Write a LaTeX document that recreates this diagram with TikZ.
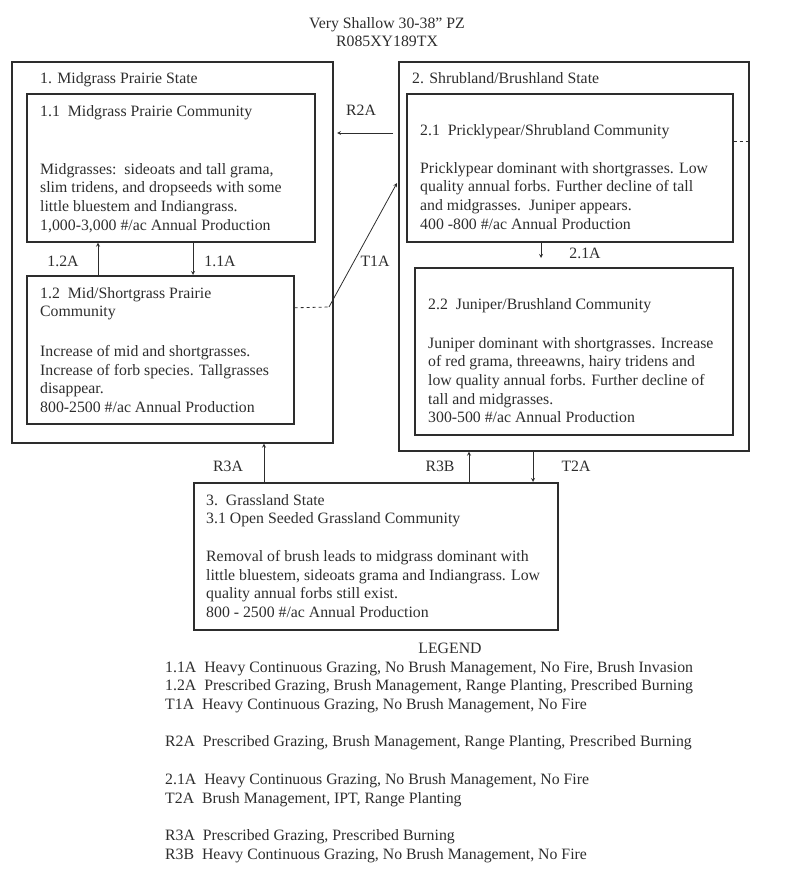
\documentclass[tikz,border=0pt]{standalone}
\usepackage{fontspec}
\setmainfont{Liberation Serif}
\usetikzlibrary{shapes,arrows,positioning}
\definecolor{linegray}{RGB}{45,45,45}
\definecolor{textgray}{RGB}{45,45,45}
\newcommand{\stmfont}{\fontsize{15.8}{18.7}\selectfont}

\begin{document}
\begin{tikzpicture}[
    x=1pt, y=-1pt,
    box/.style={rectangle, draw=linegray, line width=1.6pt, inner sep=0pt, anchor=north west},
    txt/.style={inner sep=0pt, anchor=north west, align=left, font=\stmfont, text=textgray},
    lbl/.style={inner sep=0pt, font=\stmfont, text=textgray},
    arrow/.style={->, >=stealth, linegray, line width=0.8pt},
    darrow/.style={linegray, line width=0.8pt, dashed}
]
\useasboundingbox (0,0) rectangle (800,891);

% Title
\node[lbl, align=center] (title) at (387,32) {Very Shallow 30-38” PZ\\R085XY189TX};

% Left: Midgrass Prairie State
\node[box, minimum width=321pt, minimum height=381pt] (s1) at (11,61) {};
\node[txt] (s1lbl) at (40,72) {1. Midgrass Prairie State};
\node[box, minimum width=288pt, minimum height=148pt] (c11) at (26,93) {};
\node[txt] (c11t) at (40,105) {1.1\ \ Midgrass Prairie Community};
\node[txt] (c11b) at (40,163) {Midgrasses:\ \ sideoats and tall grama,\\
slim tridens, and dropseeds with some\\
little bluestem and Indiangrass.\\
1,000-3,000 \#/ac Annual Production};
\node[box, minimum width=267pt, minimum height=148pt] (c12) at (26,275) {};
\node[txt] (c12t) at (40,287) {1.2\ \ Mid/Shortgrass Prairie\\Community};
\node[txt] (c12b) at (40,345) {Increase of mid and shortgrasses.\\
Increase of forb species. Tallgrasses\\
disappear.\\
800-2500 \#/ac Annual Production};

% Right: Shrubland/Brushland State
\node[box, minimum width=350pt, minimum height=389pt] (s2) at (398,61) {};
\node[txt] (s2lbl) at (412,72) {2. Shrubland/Brushland State};
\node[box, minimum width=326pt, minimum height=148pt] (c21) at (406,93) {};
\node[txt] (c21t) at (420,124) {2.1\ \ Pricklypear/Shrubland Community};
\node[txt] (c21b) at (420,162) {Pricklypear dominant with shortgrasses. Low\\
quality annual forbs. Further decline of tall\\
and midgrasses.\ \ Juniper appears.\\
400 -800 \#/ac Annual Production};
\node[box, minimum width=318pt, minimum height=167pt] (c22) at (414,267) {};
\node[txt] (c22t) at (428,298) {2.2\ \ Juniper/Brushland Community};
\node[txt] (c22b) at (428,337) {Juniper dominant with shortgrasses. Increase\\
of red grama, threeawns, hairy tridens and\\
low quality annual forbs. Further decline of\\
tall and midgrasses.\\
300-500 \#/ac Annual Production};

% Bottom: Grassland State
\node[box, minimum width=364pt, minimum height=147pt] (g3) at (193,482) {};
\node[txt] (g3t) at (206,494) {3.\ \ Grassland State\\3.1 Open Seeded Grassland Community};
\node[txt] (g3b) at (206,550) {Removal of brush leads to midgrass dominant with\\
little bluestem, sideoats grama and Indiangrass. Low\\
quality annual forbs still exist.\\
800 - 2500 \#/ac Annual Production};

% Transition labels
\node[lbl] (r2al) at (361,110) {R2A};
\node[lbl] (a12l) at (63,261) {1.2A};
\node[lbl] (a11l) at (220,261) {1.1A};
\node[lbl] (t1al) at (375,261) {T1A};
\node[lbl] (a21l) at (585,253) {2.1A};
\node[lbl] (r3al) at (228,466) {R3A};
\node[lbl] (r3bl) at (440,466) {R3B};
\node[lbl] (t2al) at (576,466) {T2A};

% Free ends
\coordinate (r2as) at (393,133);
\coordinate (r2ae) at (337,133);
\coordinate (t1ak) at (329,307);
\coordinate (t1ae) at (397,183);
\coordinate (a21e) at (541,258);

% Arrows - within states
\draw[arrow] ([xshift=72pt]c12.north west) -- ([xshift=72pt]c11.south west);
\draw[arrow] ([xshift=167pt]c11.south west) -- ([xshift=167pt]c12.north west);
\draw[arrow] ([xshift=135pt]c21.south west) -- (a21e);

% Arrows - between states
\draw[arrow] (r2as) -- (r2ae);
\draw[darrow] ([yshift=42pt]c12.east) -- (t1ak);
\draw[arrow] (t1ak) -- (t1ae);
\draw[darrow] ([yshift=26pt]c21.east) -- ([yshift=26pt]c21.east -| s2.east);
\draw[arrow] ([xshift=71pt]g3.north west) -- ([xshift=253pt]s1.south west);
\draw[arrow] ([xshift=276pt]g3.north west) -- ([xshift=71pt]s2.south west);
\draw[arrow] ([xshift=135pt]s2.south west) -- ([xshift=340pt]g3.north west);

% Legend
\node[lbl] (leghead) at (450,648) {LEGEND};
\node[txt] (legend) at (165,661) {1.1A\ \ Heavy Continuous Grazing, No Brush Management, No Fire, Brush Invasion\\
1.2A\ \ Prescribed Grazing, Brush Management, Range Planting, Prescribed Burning\\
T1A\ \ Heavy Continuous Grazing, No Brush Management, No Fire\\[18.7pt]
R2A\ \ Prescribed Grazing, Brush Management, Range Planting, Prescribed Burning\\[18.7pt]
2.1A\ \ Heavy Continuous Grazing, No Brush Management, No Fire\\
T2A\ \ Brush Management, IPT, Range Planting\\[18.7pt]
R3A\ \ Prescribed Grazing, Prescribed Burning\\
R3B\ \ Heavy Continuous Grazing, No Brush Management, No Fire};

\end{tikzpicture}
\end{document}
